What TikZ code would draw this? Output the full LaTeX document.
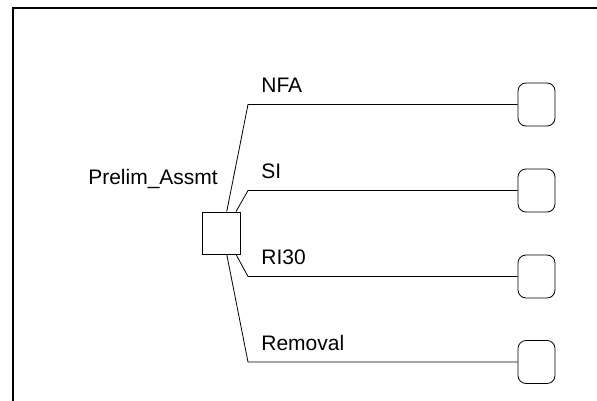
\documentclass[tikz,border=0pt]{standalone}
\usepackage{fontspec}
\setmainfont{Liberation Sans}
\usepackage{tikz}
\usetikzlibrary{positioning}

\begin{document}
\begin{tikzpicture}[
    x=1pt, y=-1pt,
    decision/.style={draw, rectangle, minimum width=38pt, minimum height=42pt, inner sep=0pt, line width=0.8pt},
    outcome/.style={draw, rectangle, rounded corners=8pt, minimum width=37pt, minimum height=43pt, inner sep=0pt, line width=0.8pt},
    branch/.style={line width=0.8pt},
    lbl/.style={anchor=base west, inner sep=0pt, font=\fontsize{21}{25}\selectfont},
]
\useasboundingbox (0,0) rectangle (597,401);

% frame
\draw[line width=1.3pt] (13,401) -- (13,8) -- (597,8);

\node[decision] (prelim) at (221,233) {};
\node[lbl, anchor=base east] (prelimlbl) at (218,184) {Prelim\_Assmt};

\node[outcome] (nfa) at (536.5,104.5) {};
\node[outcome] (si) at (536.5,190.5) {};
\node[outcome] (ri) at (536.5,276.5) {};
\node[outcome] (rem) at (536.5,362) {};

\coordinate (knee) at (248,0);

\draw[branch] (prelim.75) -- (knee |- nfa) node[lbl, xshift=13pt, yshift=12pt] {NFA} -- (nfa);
\draw[branch] (prelim.55) -- (knee |- si) node[lbl, xshift=13pt, yshift=12pt] {SI} -- (si);
\draw[branch] (prelim.-55) -- (knee |- ri) node[lbl, xshift=13pt, yshift=12pt] {RI30} -- (ri);
\draw[branch] (prelim.-75) -- (knee |- rem) node[lbl, xshift=13pt, yshift=12pt] {Removal} -- (rem);
\end{tikzpicture}
\end{document}
